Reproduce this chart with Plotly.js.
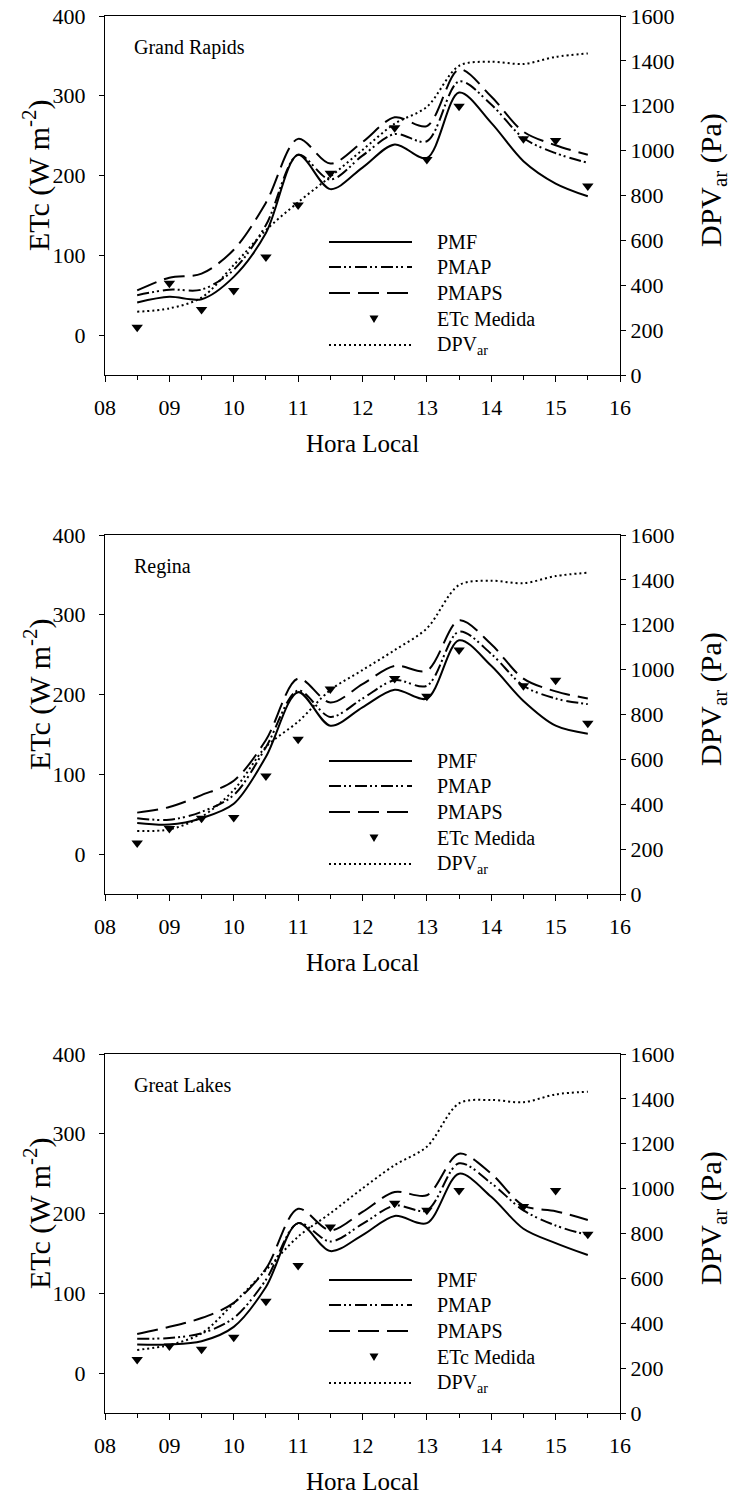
<!DOCTYPE html>
<html>
<head>
<meta charset="utf-8">
<script src="https://cdn.plot.ly/plotly-3.0.1.min.js"></script>
<style>html,body{margin:0;padding:0;background:#fff;}#chart{width:731px;height:1497px;}</style>
</head>
<body>
<div id="chart"></div>
<script>
// ---- data ----
const hours = [8.5, 9, 9.5, 10, 10.5, 11, 11.5, 12, 12.5, 13, 13.5, 14, 14.5, 15, 15.5];
const hoursMeasured = [8.5, 9, 9.5, 10, 10.5, 11, 11.5, 12.5, 13, 13.5, 14.5, 15, 15.5];
const siteNames = ["Grand Rapids", "Regina", "Great Lakes"];
const seriesNames = ["PMF", "PMAP", "PMAPS", "ETc Medida", "DPV<sub>ar</sub>"];

// Grand Rapids
const pmfGR   = [41, 48, 45, 73, 128, 226, 183, 210, 239, 222, 304, 266, 218, 190, 174];
const pmapGR  = [50, 57, 57, 82, 138, 226, 195, 225, 252, 243, 318, 289, 247, 228, 216];
const pmapsGR = [56, 72, 77, 107, 166, 246, 215, 242, 273, 262, 333, 299, 255, 238, 226];
const medGR   = [10, 65, 32, 56, 98, 163, 203, 260, 220, 287, 246, 244, 187];
const dpvGR   = [282, 297, 345, 490, 646, 770, 884, 1003, 1120, 1195, 1378, 1396, 1386, 1418, 1433];

// Regina
const pmfRE   = [39, 37, 45, 63, 122, 203, 161, 184, 206, 195, 268, 236, 192, 161, 151];
const pmapRE  = [45, 43, 53, 74, 134, 205, 172, 195, 218, 211, 279, 251, 211, 195, 188];
const pmapsRE = [52, 59, 74, 92, 143, 220, 190, 213, 236, 230, 293, 263, 220, 204, 195];
const medRE   = [14, 32, 45, 46, 98, 144, 207, 220, 198, 256, 211, 218, 164];
const dpvRE   = [281, 288, 344, 463, 656, 768, 909, 998, 1087, 1184, 1377, 1396, 1385, 1417, 1432];

// Great Lakes
const pmfGL   = [36, 36, 40, 58, 108, 188, 153, 173, 197, 188, 250, 221, 181, 163, 148];
const pmapGL  = [43, 44, 50, 69, 117, 188, 165, 187, 210, 204, 263, 238, 204, 185, 173];
const pmapsGL = [49, 58, 69, 88, 131, 206, 179, 202, 227, 223, 275, 250, 210, 203, 192];
const medGL   = [17, 34, 30, 45, 90, 135, 183, 213, 204, 229, 209, 229, 174];
const dpvGL   = [281, 303, 355, 489, 637, 786, 890, 1001, 1105, 1187, 1380, 1395, 1385, 1420, 1432];

const panels = [
  {pmf: pmfGR, pmap: pmapGR, pmaps: pmapsGR, med: medGR, dpv: dpvGR},
  {pmf: pmfRE, pmap: pmapRE, pmaps: pmapsRE, med: medRE, dpv: dpvRE},
  {pmf: pmfGL, pmap: pmapGL, pmaps: pmapsGL, med: medGL, dpv: dpvGL}
];

// ---- styles ----
const FONT = "Liberation Serif";
const DASH = {
  pmf: "solid",
  pmap: "12px,3px,2px,3px,2px,4px",
  pmaps: "21px,8px",
  dpv: "2px,3px"
};
const W = 731, H = 1497;
const M = {l: 105, r: 111, t: 16, b: 84};
const plotH = H - M.t - M.b;
const panelTops = [16, 535, 1054];
const panelH = 359;

const traces = [];
const layout = {
  width: W, height: H,
  margin: M,
  paper_bgcolor: "#fff", plot_bgcolor: "#fff",
  showlegend: false,
  font: {family: FONT, color: "#000"},
  shapes: [], annotations: []
};

function dom(top) {
  const y1 = (H - M.b - top) / plotH;
  const y0 = (H - M.b - (top + panelH)) / plotH;
  return [Math.max(0, y0), Math.min(1, y1)];
}

panels.forEach((p, i) => {
  const xa = i === 0 ? "x" : "x" + (i + 1);
  const yl = i === 0 ? "y" : "y" + (2 * i + 1);
  const yr = "y" + (2 * i + 2);
  const xKey = i === 0 ? "xaxis" : "xaxis" + (i + 1);
  const ylKey = i === 0 ? "yaxis" : "yaxis" + (2 * i + 1);
  const yrKey = "yaxis" + (2 * i + 2);
  const d = dom(panelTops[i]);

  const lineBase = {x: hours, xaxis: xa, mode: "lines", hoverinfo: "skip"};
  traces.push(Object.assign({}, lineBase, {y: p.pmf, yaxis: yl, name: "PMF",
    line: {color: "#000", width: 2, dash: DASH.pmf, shape: "spline", smoothing: 0.9}}));
  traces.push(Object.assign({}, lineBase, {y: p.pmap, yaxis: yl, name: "PMAP",
    line: {color: "#000", width: 2, dash: DASH.pmap, shape: "spline", smoothing: 0.9}}));
  traces.push(Object.assign({}, lineBase, {y: p.pmaps, yaxis: yl, name: "PMAPS",
    line: {color: "#000", width: 2, dash: DASH.pmaps, shape: "spline", smoothing: 0.9}}));
  traces.push({x: hoursMeasured, y: p.med, xaxis: xa, yaxis: yl, mode: "markers", name: "ETc Medida",
    marker: {symbol: "triangle-down", size: 10, color: "#000"}, hoverinfo: "skip", cliponaxis: false});
  traces.push(Object.assign({}, lineBase, {y: p.dpv, yaxis: yr, name: "DPVar",
    line: {color: "#000", width: 2, dash: DASH.dpv, shape: "spline", smoothing: 0.9}}));

  const tickfont = {family: FONT, size: 22, color: "#000"};
  layout[xKey] = {
    domain: [0, 1], anchor: yl, range: [8, 16], tick0: 8, dtick: 1, tickformat: "02d",
    ticks: "outside", ticklen: 6, tickwidth: 1, tickcolor: "#000",
    showline: true, linecolor: "#000", linewidth: 1, mirror: true,
    showgrid: false, zeroline: false, tickfont: tickfont, ticklabelstandoff: 7,
    minor: {ticks: "outside", ticklen: 4, tickwidth: 1, tickcolor: "#000", dtick: 0.5, tick0: 8, showgrid: false}
  };
  layout[ylKey] = {
    domain: d, anchor: xa, range: [-50, 400], tick0: 0, dtick: 100,
    ticks: "outside", ticklen: 5, tickwidth: 1, tickcolor: "#000",
    showline: true, linecolor: "#000", linewidth: 1,
    showgrid: false, zeroline: false, tickfont: tickfont, ticklabelstandoff: 9
  };
  layout[yrKey] = {
    domain: d, anchor: xa, overlaying: yl, side: "right", range: [0, 1600], tick0: 0, dtick: 200,
    ticks: "outside", ticklen: 5, tickwidth: 1, tickcolor: "#000",
    showline: true, linecolor: "#000", linewidth: 1,
    showgrid: false, zeroline: false, tickfont: tickfont
  };

  const xd = xa + " domain", yd = yl + " domain";
  // panel label
  layout.annotations.push({xref: xd, yref: yd, x: 0.052, y: 1 - 31 / panelH, xanchor: "left", yanchor: "middle",
    text: siteNames[i], showarrow: false, font: {family: FONT, size: 20, color: "#000"}});
  // axis titles
  layout.annotations.push({xref: xd, yref: yd, x: 0.5, y: -68 / panelH, xanchor: "center", yanchor: "middle",
    text: "Hora Local", showarrow: false, font: {family: FONT, size: 25, color: "#000"}});
  layout.annotations.push({xref: xd, yref: yd, x: (37 - 105) / 515, y: 1 - (176 - 16) / panelH, xanchor: "center", yanchor: "middle",
    text: "ETc (W m<sup>-2</sup>)", textangle: -90, showarrow: false, font: {family: FONT, size: 30, color: "#000"}});
  layout.annotations.push({xref: xd, yref: yd, x: (713 - 105) / 515, y: 1 - (180 - 16) / panelH, xanchor: "center", yanchor: "middle",
    text: "DPV<sub>ar</sub> (Pa)", textangle: -90, showarrow: false, font: {family: FONT, size: 30, color: "#000"}});

  // legend (drawn inside plot)
  const rows = [226, 251, 277, 303, 329].map(v => 1 - v / panelH);
  const lx0 = (329 - 105) / 515, lx1 = (412 - 105) / 515, lmx = (374 - 105) / 515, ltx = (435 - 105) / 515;
  const dashes = [DASH.pmf, DASH.pmap, DASH.pmaps, null, DASH.dpv];
  rows.forEach((ry, k) => {
    if (dashes[k]) {
      layout.shapes.push({type: "line", xref: xd, yref: yd, x0: lx0, x1: lx1, y0: ry, y1: ry,
        line: {color: "#000", width: 2, dash: dashes[k]}});
    } else {
      layout.shapes.push({type: "path", xref: xd, yref: yd, xsizemode: "pixel", ysizemode: "pixel",
        xanchor: lmx, yanchor: ry, path: "M-4.5,3.5L4.5,3.5L0,-4Z",
        fillcolor: "#000", line: {color: "#000", width: 0}});
    }
    layout.annotations.push({xref: xd, yref: yd, x: ltx, y: ry, xanchor: "left", yanchor: "middle",
      text: seriesNames[k], showarrow: false, font: {family: FONT, size: 20, color: "#000"}});
  });
});

Plotly.newPlot("chart", traces, layout, {staticPlot: true, displayModeBar: false});
</script>
</body>
</html>
